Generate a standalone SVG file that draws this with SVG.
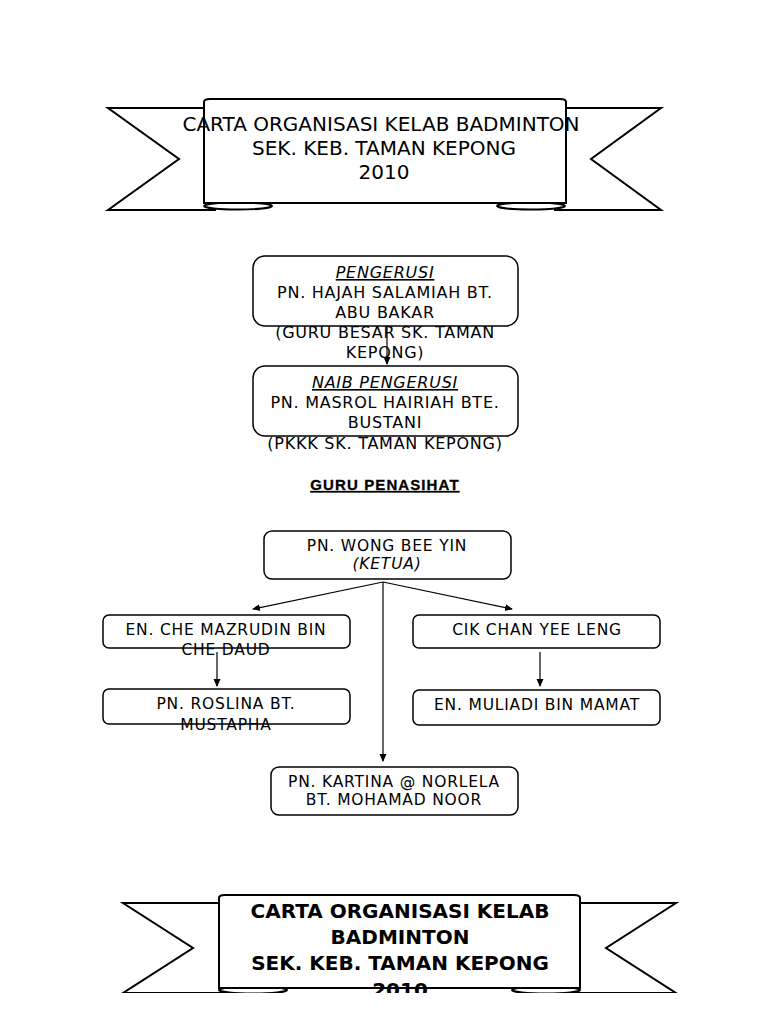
<svg xmlns="http://www.w3.org/2000/svg" width="768" height="1024" viewBox="0 0 768 1024">
<style>
.ln{fill:#fff;stroke:#000;stroke-width:2}
.bx{fill:#fff;stroke:#000;stroke-width:1.5}
.t{font-family:"DejaVu Sans",sans-serif;fill:#000;text-anchor:middle}
.p{font-size:16px;letter-spacing:0.75px}
.n{font-size:15.5px;letter-spacing:0.8px}
.c{stroke:#000;stroke-width:1.2;fill:none}
</style>
<defs>
<marker id="ah" markerWidth="8" markerHeight="8" refX="7" refY="4" orient="auto" markerUnits="userSpaceOnUse">
<path d="M0,0.5 L8,4 L0,7.5 z" fill="#000"/>
</marker>
<clipPath id="clipB"><rect x="0" y="0" width="768" height="993"/></clipPath>
</defs>
<rect width="768" height="1024" fill="#fff"/>

<g id="banner-top">
<polygon class="ln" points="108,108 215,108 215,210 108,210 179,159"/>
<polygon class="ln" points="661,108 555,108 555,210 661,210 591,159"/>
<ellipse class="ln" cx="238" cy="206" rx="34" ry="3.5"/>
<ellipse class="ln" cx="531" cy="206" rx="34" ry="3.5"/>
<path class="ln" d="M204,102 Q204,99 210,99 L560,99 Q566,99 566,102 L566,203 L204,203 Z"/>
<text class="t" font-size="20" x="381" y="131">CARTA ORGANISASI KELAB BADMINTON</text>
<text class="t" font-size="20" x="384" y="155">SEK. KEB. TAMAN KEPONG</text>
<text class="t" font-size="20" x="384" y="179">2010</text>
</g>

<g id="connectors">
<line class="c" x1="387" y1="327" x2="387" y2="364" marker-end="url(#ah)"/>
<line class="c" x1="383" y1="582" x2="253" y2="609" marker-end="url(#ah)"/>
<line class="c" x1="383" y1="582" x2="512" y2="609" marker-end="url(#ah)"/>
<line class="c" x1="383" y1="582" x2="383" y2="761" marker-end="url(#ah)"/>
<line class="c" x1="217" y1="652" x2="217" y2="686" marker-end="url(#ah)"/>
<line class="c" x1="540" y1="652" x2="540" y2="686" marker-end="url(#ah)"/>
</g>

<g id="pengerusi">
<rect class="bx" x="253" y="256" width="265" height="70" rx="12"/>
<text class="t p" x="385" y="278" font-style="italic" text-decoration="underline">PENGERUSI</text>
<text class="t p" x="385" y="298">PN. HAJAH SALAMIAH BT.</text>
<text class="t p" x="385" y="318">ABU BAKAR</text>
<text class="t p" x="385" y="338">(GURU BESAR SK. TAMAN</text>
<text class="t p" x="385" y="358">KEPONG)</text>
</g>

<g id="naib">
<rect class="bx" x="253" y="366" width="265" height="70" rx="12"/>
<text class="t p" x="385" y="388" font-style="italic" text-decoration="underline">NAIB PENGERUSI</text>
<text class="t p" x="385" y="408">PN. MASROL HAIRIAH BTE.</text>
<text class="t p" x="385" y="428">BUSTANI</text>
<text class="t p" x="385" y="449">(PKKK SK. TAMAN KEPONG)</text>
</g>

<g id="guru-penasihat">
<text x="385" y="490" font-family="'Liberation Sans',Arial,sans-serif" font-weight="bold" font-size="15" letter-spacing="1.1" stroke="#000" stroke-width="0.3" text-anchor="middle" text-decoration="underline">GURU PENASIHAT</text>
</g>

<g id="wong">
<rect class="bx" x="264" y="531" width="247" height="48" rx="8"/>
<text class="t n" x="387" y="551">PN. WONG BEE YIN</text>
<text class="t n" x="387" y="569" font-style="italic">(KETUA)</text>
</g>

<g id="che">
<rect class="bx" x="103" y="615" width="247" height="33" rx="6"/>
<text class="t n" x="226" y="635">EN. CHE MAZRUDIN BIN</text>
<text class="t n" x="226" y="655">CHE DAUD</text>
</g>

<g id="roslina">
<rect class="bx" x="103" y="689" width="247" height="35" rx="6"/>
<text class="t n" x="226" y="709">PN. ROSLINA BT.</text>
<text class="t n" x="226" y="730">MUSTAPHA</text>
</g>

<g id="chan">
<rect class="bx" x="413" y="615" width="247" height="33" rx="6"/>
<text class="t n" x="537" y="635">CIK CHAN YEE LENG</text>
</g>

<g id="muliadi">
<rect class="bx" x="413" y="690" width="247" height="35" rx="6"/>
<text class="t n" x="537" y="710">EN. MULIADI BIN MAMAT</text>
</g>

<g id="kartina">
<rect class="bx" x="271" y="767" width="247" height="48" rx="8"/>
<text class="t n" x="394" y="787">PN. KARTINA @ NORLELA</text>
<text class="t n" x="394" y="805">BT. MOHAMAD NOOR</text>
</g>

<g id="banner-bottom" clip-path="url(#clipB)">
<polygon class="ln" points="123,903 230,903 230,993 123,993 193,948"/>
<polygon class="ln" points="676,903 570,903 570,993 676,993 606,948"/>
<ellipse class="ln" cx="253" cy="990" rx="34" ry="3.5"/>
<ellipse class="ln" cx="546" cy="990" rx="34" ry="3.5"/>
<path class="ln" d="M219,898 Q219,895 225,895 L574,895 Q580,895 580,898 L580,988 L219,988 Z"/>
<text class="t" font-size="20" font-weight="bold" x="400" y="918">CARTA ORGANISASI KELAB</text>
<text class="t" font-size="20" font-weight="bold" x="400" y="944">BADMINTON</text>
<text class="t" font-size="20" font-weight="bold" x="400" y="970">SEK. KEB. TAMAN KEPONG</text>
<text class="t" font-size="20" font-weight="bold" x="400" y="997">2010</text>
</g>
</svg>
